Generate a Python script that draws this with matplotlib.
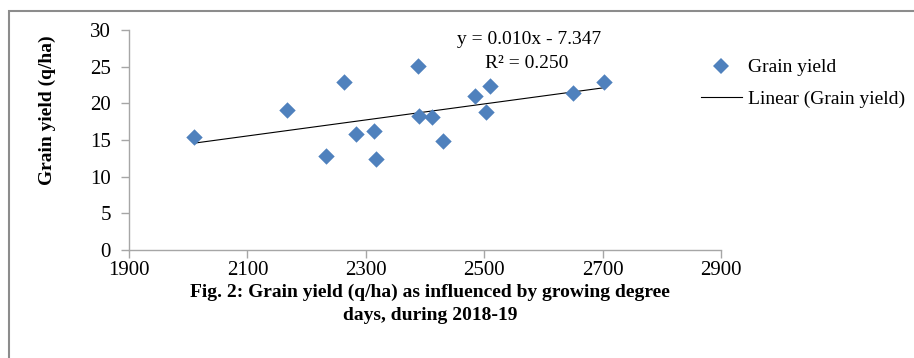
import matplotlib.pyplot as plt
from matplotlib.patches import Rectangle
from matplotlib.lines import Line2D
import numpy as np

plt.rcParams['font.family'] = ['Liberation Serif', 'DejaVu Serif']

# data
gdd = [2010, 2167, 2233, 2264, 2283, 2314, 2317, 2388, 2390, 2412, 2431,
       2485, 2509, 2503, 2650, 2702]
grain_yield = [15.4, 19.1, 12.8, 22.9, 15.8, 16.2, 12.4, 25.1, 18.3, 18.2, 14.8,
               21.0, 22.4, 18.8, 21.4, 22.9]
x_ticks = [1900, 2100, 2300, 2500, 2700, 2900]
y_ticks = [0, 5, 10, 15, 20, 25, 30]

W, H = 914, 358
fig = plt.figure(figsize=(W / 100, H / 100), dpi=100)
ax = fig.add_axes([129 / W, 1 - 250 / H, (721 - 129) / W, (250 - 30) / H])

ax.scatter(gdd, grain_yield, marker='D', s=70, color='#4F81BD', zorder=3,
           linewidths=0)

# linear trend
xs = np.array(gdd, dtype=float)
slope, icpt = np.polyfit(xs, grain_yield, 1)
xl = np.array([min(gdd), max(gdd)])
ax.plot(xl, slope * xl + icpt, color='black', linewidth=0.8)

ax.set_xlim(1900, 2900)
ax.set_ylim(0, 30)
ax.set_xticks(x_ticks)
ax.set_yticks(y_ticks)
for s in ['top', 'right']:
    ax.spines[s].set_visible(False)
for s in ['left', 'bottom']:
    ax.spines[s].set_color('#a6a6a6')
    ax.spines[s].set_linewidth(1.0)
ax.tick_params(axis='both', colors='#a6a6a6', labelcolor='black',
               labelsize=15, length=6, width=1.0)
ax.tick_params(axis='x', pad=2)
ax.tick_params(axis='y', pad=7)

fig.text(47 / W, 1 - 110 / H, 'Grain yield (q/ha)', rotation=90,
         ha='center', va='center', fontsize=14, fontweight='bold')

fig.text(529 / W, 1 - 39 / H, 'y = 0.010x - 7.347', ha='center', va='center',
         fontsize=14)
fig.text(527 / W, 1 - 63 / H, 'R² = 0.250', ha='center', va='center',
         fontsize=14)

# legend
handles = [Line2D([], [], marker='D', linestyle='none', color='#4F81BD',
                  markersize=8.5, markeredgewidth=0),
           Line2D([], [], color='black', linewidth=0.8)]
fig.legend(handles, ['Grain yield', 'Linear (Grain yield)'],
           loc='upper left', bbox_to_anchor=(695 / W, 1 - 53 / H),
           frameon=False, fontsize=14, handlelength=2.1, handletextpad=0.35,
           labelspacing=0.72, borderaxespad=0, borderpad=0.3)

fig.text(430 / W, 1 - 292 / H,
         'Fig. 2: Grain yield (q/ha) as influenced by growing degree',
         ha='center', va='center', fontsize=14, fontweight='bold')
fig.text(430 / W, 1 - 315 / H, 'days, during 2018-19',
         ha='center', va='center', fontsize=14, fontweight='bold')

fig.patches.append(Rectangle((8.5 / W, -0.1), 1.2, 1.1 - 11 / H,
                             transform=fig.transFigure, fill=False,
                             edgecolor='#8c8c8c', linewidth=1.5))

fig.savefig('out.png', dpi=100)
plt.close(fig)
